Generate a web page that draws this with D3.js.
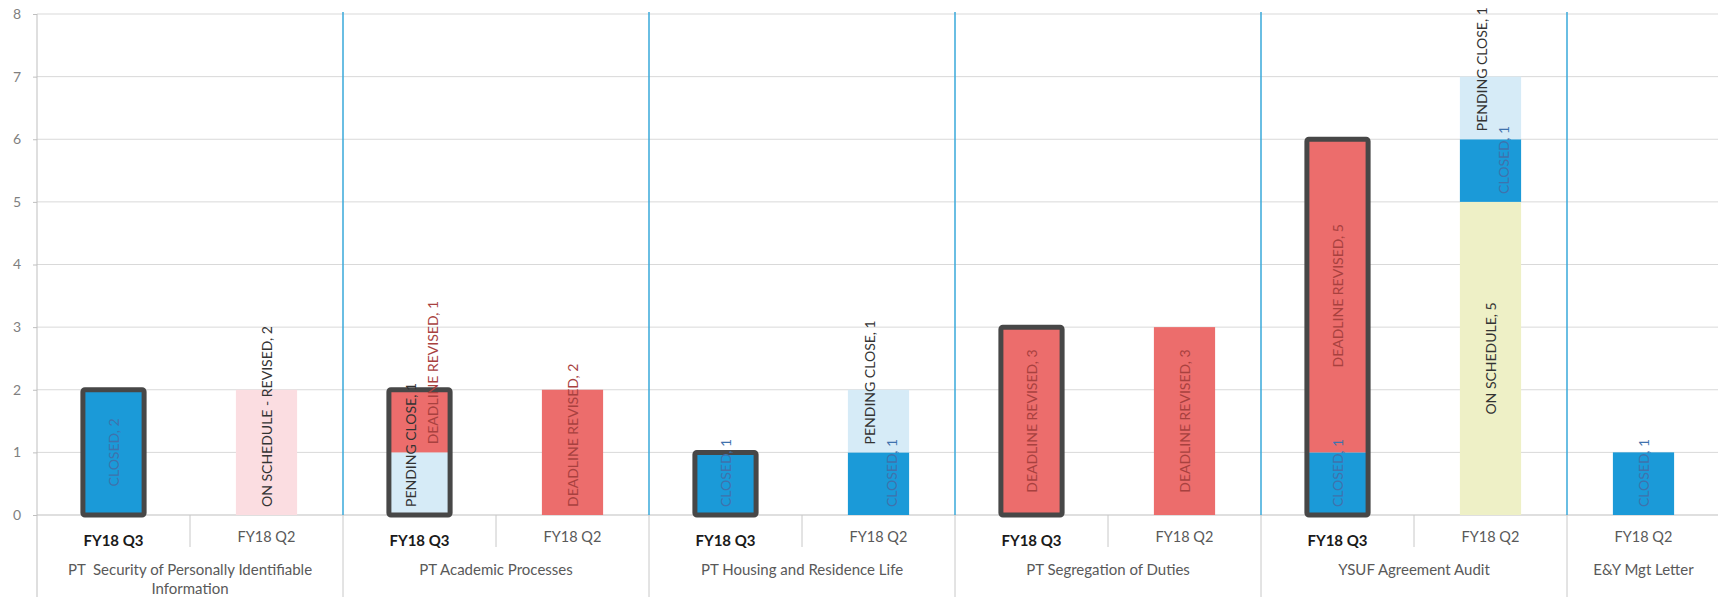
<!DOCTYPE html>
<html>
<head>
<meta charset="utf-8">
<script src="https://cdn.jsdelivr.net/npm/d3@7"></script>
<style>
  body { margin: 0; background: #fff; }
  svg { font-family: Lato, "Open Sans", sans-serif; display: block; }
</style>
</head>
<body>
<div id="chart"></div>
<script>
// audit finding status by period
var groups = ["PT  Security of Personally Identifiable Information", "PT Academic Processes",
  "PT Housing and Residence Life", "PT Segregation of Duties", "YSUF Agreement Audit", "E&Y Mgt Letter"];
var slotGroup = [0, 0, 1, 1, 2, 2, 3, 3, 4, 4, 5];
var slotPeriod = ["FY18 Q3", "FY18 Q2", "FY18 Q3", "FY18 Q2", "FY18 Q3", "FY18 Q2",
  "FY18 Q3", "FY18 Q2", "FY18 Q3", "FY18 Q2", "FY18 Q2"];
var statuses = ["ON SCHEDULE", "CLOSED", "PENDING CLOSE", "DEADLINE REVISED", "ON SCHEDULE - REVISED"];
var onScheduleVals = [0, 0, 0, 0, 0, 0, 0, 0, 0, 5, 0];
var closedVals = [2, 0, 0, 0, 1, 1, 0, 0, 1, 1, 1];
var pendingCloseVals = [0, 0, 1, 0, 0, 1, 0, 0, 0, 1, 0];
var deadlineRevisedVals = [0, 0, 1, 2, 0, 0, 3, 3, 5, 0, 0];
var onScheduleRevisedVals = [0, 2, 0, 0, 0, 0, 0, 0, 0, 0, 0];
var yTicks = [0, 1, 2, 3, 4, 5, 6, 7, 8];

var seriesVals = [onScheduleVals, closedVals, pendingCloseVals, deadlineRevisedVals, onScheduleRevisedVals];
var fill = {"ON SCHEDULE": "#eef0c6", "CLOSED": "#1b9ad8", "PENDING CLOSE": "#d6ebf7",
  "DEADLINE REVISED": "#ec6d6c", "ON SCHEDULE - REVISED": "#fbdde1"};
var textColor = {"ON SCHEDULE": "#333", "CLOSED": "#3f72ad", "PENDING CLOSE": "#333",
  "DEADLINE REVISED": "#a8413f", "ON SCHEDULE - REVISED": "#333"};

var width = 1718, height = 597;
var plotLeft = 37, plotTop = 14, plotBottom = 515;

var rows = slotGroup.map(function(g, i) {
  var r = {slot: i};
  statuses.forEach(function(s, k) { r[s] = seriesVals[k][i]; });
  return r;
});
var stacked = d3.stack().keys(statuses)(rows);

var x = d3.scaleBand()
  .domain(d3.range(slotGroup.length))
  .range([plotLeft, 1720])
  .paddingInner(0.6)
  .paddingOuter(0.3);
var step = x.step();
var y = d3.scaleLinear().domain([0, 8]).range([plotBottom, plotTop]);

var svg = d3.select("#chart").append("svg")
  .attr("width", width)
  .attr("height", height);

// gridlines
svg.append("g").selectAll("line")
  .data(yTicks.filter(function(t) { return t > 0; }))
  .enter().append("line")
  .attr("x1", plotLeft).attr("x2", width)
  .attr("y1", function(d) { return y(d); })
  .attr("y2", function(d) { return y(d); })
  .attr("stroke", "#d9d9d9");

// y axis
var yAxis = svg.append("g")
  .attr("transform", "translate(" + plotLeft + ",0)")
  .call(d3.axisLeft(y).tickValues(yTicks).tickSize(4).tickPadding(12));
yAxis.select(".domain").remove();
yAxis.selectAll("line").attr("stroke", "#bfbfbf");
yAxis.selectAll("text").attr("fill", "#7f7f7f").attr("font-size", 14).attr("font-family", "Lato");
svg.append("line")
  .attr("x1", plotLeft).attr("x2", plotLeft).attr("y1", plotTop).attr("y2", height)
  .attr("stroke", "#bfbfbf");

// x axis line
svg.append("line")
  .attr("x1", plotLeft).attr("x2", width).attr("y1", plotBottom).attr("y2", plotBottom)
  .attr("stroke", "#bfbfbf");

// group boundaries
var groupEnds = [];
slotGroup.forEach(function(g, i) {
  if (i < slotGroup.length - 1 && slotGroup[i + 1] !== g) groupEnds.push(i);
});
groupEnds.forEach(function(i) {
  var bx = x(i) + x.bandwidth() / 2 + step / 2;
  svg.append("line").attr("x1", bx).attr("x2", bx).attr("y1", plotTop - 2).attr("y2", plotBottom)
    .attr("stroke", "#39a8da").attr("stroke-width", 1.5);
  svg.append("line").attr("x1", bx).attr("x2", bx).attr("y1", plotBottom).attr("y2", height)
    .attr("stroke", "#c8c8c8");
});
// ticks between periods inside a group
slotGroup.forEach(function(g, i) {
  if (i < slotGroup.length - 1 && slotGroup[i + 1] === g) {
    var bx = x(i) + x.bandwidth() / 2 + step / 2;
    svg.append("line").attr("x1", bx).attr("x2", bx).attr("y1", plotBottom).attr("y2", plotBottom + 32)
      .attr("stroke", "#c8c8c8");
  }
});

// bar segments
var layer = svg.append("g").selectAll("g")
  .data(stacked)
  .enter().append("g")
  .attr("fill", function(d) { return fill[d.key]; });
layer.selectAll("rect")
  .data(function(d) { return d.filter(function(p) { return p[1] > p[0]; }); })
  .enter().append("rect")
  .attr("x", function(d) { return x(d.data.slot); })
  .attr("width", x.bandwidth())
  .attr("y", function(d) { return y(d[1]); })
  .attr("height", function(d) { return y(d[0]) - y(d[1]); });

// dark outline on the current quarter
function total(d) { return d3.sum(statuses, function(s) { return d[s]; }); }
svg.append("g").selectAll("rect")
  .data(rows.filter(function(r) { return slotPeriod[r.slot] === "FY18 Q3"; }))
  .enter().append("rect")
  .attr("x", function(d) { return x(d.slot); })
  .attr("width", x.bandwidth())
  .attr("y", function(d) { return y(total(d)); })
  .attr("height", function(d) { return plotBottom - y(total(d)); })
  .attr("fill", "none")
  .attr("stroke", "#474747")
  .attr("stroke-width", 5)
  .attr("rx", 2);

// segment labels (rotated, kept above the segment's bottom like Excel does)
var labels = [];
stacked.forEach(function(s) {
  s.forEach(function(p) {
    if (p[1] > p[0]) labels.push({key: s.key, slot: p.data.slot, v: p[1] - p[0], y0: p[0], y1: p[1]});
  });
});
var lab = svg.append("g").selectAll("text")
  .data(labels)
  .enter().append("text")
  .text(function(d) { return d.key + ", " + d.v; })
  .attr("font-size", 14)
  .attr("fill", function(d) { return textColor[d.key]; })
  .attr("text-anchor", "middle")
  .attr("dominant-baseline", "central");
lab.each(function(d) {
  var len = this.getComputedTextLength();
  var segBottom = y(d.y0);
  var mid = (y(d.y0) + y(d.y1)) / 2;
  d.cy = Math.min(mid, segBottom - 8 - len / 2);
  d.lo = d.cy - len / 2; d.hi = d.cy + len / 2;
  d.dx = 0;
});
// nudge overlapping labels in the same bar apart
d3.groups(labels, function(d) { return d.slot; }).forEach(function(g) {
  var ls = g[1];
  for (var i = 1; i < ls.length; i++) {
    var a = ls[i - 1], b = ls[i];
    if (b.hi > a.lo) {
      [a, b].forEach(function(d) { d.dx = d.key === "PENDING CLOSE" ? -9 : 13; });
    }
  }
});
lab.attr("transform", function(d) {
  return "translate(" + (x(d.slot) + x.bandwidth() / 2 + d.dx) + "," + d.cy + ") rotate(-90)";
});

// period labels
svg.append("g").selectAll("text")
  .data(slotPeriod)
  .enter().append("text")
  .attr("x", function(d, i) { return x(i) + x.bandwidth() / 2; })
  .attr("y", function(d) { return d === "FY18 Q3" ? 540 : 536; })
  .attr("text-anchor", "middle")
  .attr("dominant-baseline", "central")
  .attr("font-size", function(d) { return d === "FY18 Q3" ? 15 : 14.5; })
  .attr("font-weight", function(d) { return d === "FY18 Q3" ? "bold" : "normal"; })
  .attr("fill", function(d) { return d === "FY18 Q3" ? "#1a1a1a" : "#595959"; })
  .text(function(d) { return d; });

// group labels, wrapped to the group's width
groups.forEach(function(name, g) {
  var idx = slotGroup.map(function(s, i) { return s === g ? i : -1; }).filter(function(i) { return i >= 0; });
  var cx = (x(idx[0]) + x(idx[idx.length - 1])) / 2 + x.bandwidth() / 2;
  var maxW = idx.length * step - 20;
  var t = svg.append("text")
    .attr("text-anchor", "middle")
    .attr("font-size", 15)
    .attr("fill", "#595959")
    .attr("xml:space", "preserve");
  var words = name.split(" "), line = [], lineNo = 0;
  var tspan = t.append("tspan").attr("x", cx).attr("y", 569).attr("dominant-baseline", "central");
  words.forEach(function(w) {
    line.push(w);
    tspan.text(line.join(" "));
    if (tspan.node().getComputedTextLength() > maxW && line.length > 1) {
      line.pop();
      tspan.text(line.join(" "));
      line = [w];
      lineNo++;
      tspan = t.append("tspan").attr("x", cx).attr("y", 569 + lineNo * 19)
        .attr("dominant-baseline", "central").text(w);
    }
  });
});
</script>
</body>
</html>
